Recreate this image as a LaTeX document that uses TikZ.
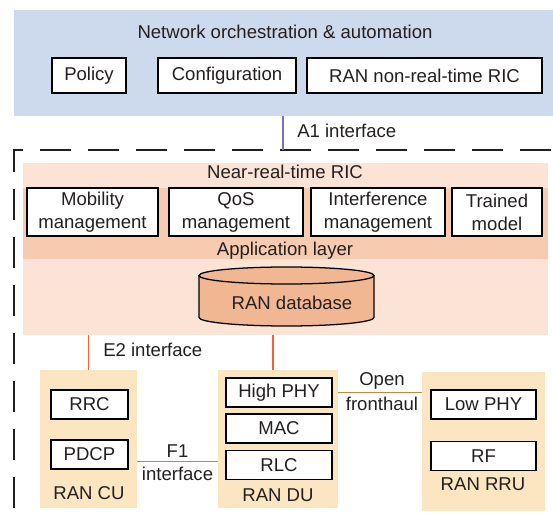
\documentclass[tikz,border=0pt]{standalone}
\usepackage{fontspec}
\setmainfont{Liberation Sans}
\usetikzlibrary{calc}
\definecolor{orchblue}{RGB}{205,217,236}
\definecolor{ricpink}{RGB}{251,227,214}
\definecolor{appband}{RGB}{247,203,175}
\definecolor{dbfill}{RGB}{241,183,146}
\definecolor{tanbg}{RGB}{251,230,193}
\definecolor{a1col}{RGB}{115,115,190}
\definecolor{e2col}{RGB}{242,100,50}
\definecolor{fhcol}{RGB}{190,138,58}
\definecolor{txtgray}{RGB}{35,31,32}
\definecolor{dashgray}{RGB}{30,30,30}
\tikzset{
	box/.style={draw=black, fill=white, line width=0.9pt, inner sep=0pt, align=center, text=txtgray},
	band/.style={inner sep=0pt, outer sep=0pt},
	unitbox/.style={fill=tanbg, inner sep=0pt, outer sep=0pt, minimum height=34.5mm},
	lbl/.style={inner sep=0pt, align=center, text=txtgray},
	a1line/.style={line width=1.1pt, color=a1col},
	e2line/.style={line width=1.2pt, color=e2col},
	fhline/.style={line width=1.2pt, color=fhcol},
}

\begin{document}
\begin{tikzpicture}[x=0.25mm, y=-0.25mm, font=\fontsize{13.2}{16.4}\selectfont]
		%%%%% START %%%%%
		\useasboundingbox (0,0) rectangle (553,514);
		\clip (0,0) rectangle (553,514);
		
		% orchestration layer
		\node[band, fill=orchblue, minimum width=136.5mm, minimum height=26.5mm] (orch) at (287,63) {};
		\node[lbl] (orchtitle) at (285,32) {Network orchestration \& automation};
		\node[box, minimum width=18.5mm, minimum height=8.75mm] (policy) at (89,75.5) {Policy};
		\node[box, minimum width=34.5mm, minimum height=8.75mm] (config) at (227,75.5) {Configuration};
		\node[box, minimum width=58.75mm, minimum height=8.75mm] (nonrt) at (424.5,75.5) {RAN non-real-time RIC};
		
		% dashed frame
		\draw[line width=1.4pt, color=dashgray, dash pattern=on 7.75mm off 4.25mm, dash phase=9mm] (14,520) -- (14,150) -- (560,150);
		
		\coordinate (a1end) at (283,150);
		\draw[a1line] (orch.south -| a1end) -- (a1end);
		\node[lbl, anchor=west] (a1lbl) at (297,131) {A1 interface};
		
		% near-real-time RIC
		\node[band, fill=ricpink, minimum width=131.25mm, minimum height=43mm] (ric) at (285.5,249) {};
		\node[band, fill=appband, minimum width=131.25mm, minimum height=17.75mm] (app) at (285.5,223.5) {};
		\node[lbl] (rictitle) at (285,172) {Near-real-time RIC};
		\node[box, minimum width=32.75mm, minimum height=12mm] (mob) at (92.5,212) {Mobility\\management};
		\node[box, minimum width=33.5mm, minimum height=12mm] (qos) at (236,212) {QoS\\management};
		\node[box, minimum width=33.5mm, minimum height=12mm] (interf) at (378,212) {Interference\\management};
		\node[box, minimum width=22.5mm, minimum height=12mm] (trained) at (497,212) {Trained\\model};
		\node[lbl] (applbl) at (285,251) {Application layer};
		
		\draw[line width=0.9pt, fill=dbfill] (199,275.5) -- (199,317.5) arc (180:0:87.5 and 8.5) -- (374,275.5);
		\draw[line width=0.9pt, fill=dbfill] (286.5,275.5) ellipse (87.5 and 8.5);
		\node[lbl] (db) at (292,303) {RAN database};
		
		% RAN units
		\node[unitbox, minimum width=24.25mm] (cu) at (88.5,439) {};
		\node[unitbox, minimum width=30mm] (du) at (278,439) {};
		\node[unitbox, minimum width=30.75mm, minimum height=34.75mm] (rru) at (483.5,441.5) {};
		
		\node[box, minimum width=19.25mm, minimum height=7.25mm] (rrc) at (89.5,404.5) {RRC};
		\node[box, minimum width=19.25mm, minimum height=7.25mm] (pdcp) at (89.5,454.5) {PDCP};
		\node[lbl] (culbl) at (89,493) {RAN CU};
		
		\node[box, minimum width=26.5mm, minimum height=7.25mm] (hiphy) at (279,392.5) {High PHY};
		\node[box, minimum width=26.5mm, minimum height=7.25mm] (mac) at (279,428.5) {MAC};
		\node[box, minimum width=26.5mm, minimum height=7.25mm] (rlc) at (279,465) {RLC};
		\node[lbl] (dulbl) at (278,495) {RAN DU};
		
		\node[box, minimum width=26.25mm, minimum height=7.25mm] (lophy) at (483.5,404.5) {Low PHY};
		\node[box, minimum width=26.25mm, minimum height=7.25mm] (rf) at (483.5,456) {RF};
		\node[lbl] (rrulbl) at (483,484) {RAN RRU};
		
		% interfaces
		\draw[e2line] (ric.south -| cu.north) -- (cu.north);
		\draw[e2line] ([xshift=-1.25mm]du.north |- ric.south) -- ([xshift=-1.25mm]du.north);
		\node[lbl, anchor=west] (e2lbl) at (103,350) {E2 interface};
		
		\coordinate (f1) at (0,461.5);
		\draw[fhline] (cu.east |- f1) -- (du.west |- f1);
		\node[lbl] (f1lbl) at (177.5,463) {F1\\interface};
		
		\draw[fhline] (du.east |- hiphy) -- (rru.west |- hiphy);
		\node[lbl] (fhlbl) at (382,391.5) {Open\\[1.4pt]fronthaul};
		
		%%%%% END %%%%%
\end{tikzpicture}
\end{document}
